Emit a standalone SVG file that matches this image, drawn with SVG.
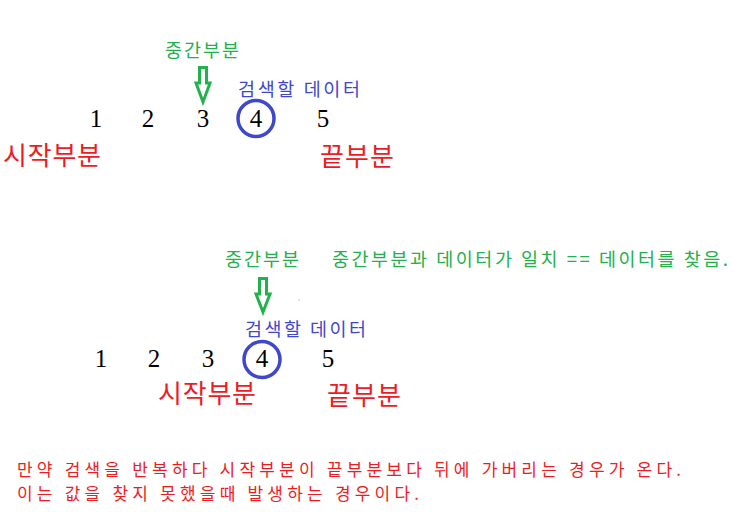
<svg xmlns="http://www.w3.org/2000/svg" width="740" height="512" viewBox="0 0 740 512">
<style>
.k{font-family:"Noto Sans CJK KR","Noto Sans",sans-serif;}
.g{fill:#22b14c;font-size:18.5px;}
.b{fill:#3f48cc;font-size:18.5px;}
.r{fill:#ed1c24;font-size:26px;}
.rs{fill:#ed1c24;font-size:17px;}
.n{font-family:"Liberation Serif","Times New Roman",serif;font-size:25px;fill:#000;text-anchor:middle;}
.ring{fill:none;stroke:#3f48cc;stroke-width:3.5;}
.arr{fill:#fff;stroke:#22b14c;stroke-width:3;stroke-linejoin:miter;}
</style>
<rect width="740" height="512" fill="#fff"/>
<g id="connectors">
<path class="arr" d="M199.5,67.5 H206.5 V83 H210 L203,102 L196,83 H199.5 Z"/>
<path class="arr" d="M259.5,278.5 H266.5 V294 H270 L263,312 L256,294 H259.5 Z"/>
</g>
<g id="top-mid"><text class="k g" x="165" y="57" textLength="74" lengthAdjust="spacing">중간부분</text></g>
<g id="top-target"><text class="k b" x="238" y="96" textLength="122" lengthAdjust="spacing">검색할 데이터</text></g>
<g id="top-numbers">
<text class="n" x="96" y="127">1</text>
<text class="n" x="148" y="127">2</text>
<text class="n" x="203" y="127">3</text>
<text class="n" x="256" y="127">4</text>
<text class="n" x="323" y="127">5</text>
<circle class="ring" cx="256" cy="118.5" r="18"/>
</g>
<g id="top-start"><text class="k r" x="3" y="165" textLength="98" lengthAdjust="spacing">시작부분</text></g>
<g id="top-end"><text class="k r" x="320" y="166" textLength="74" lengthAdjust="spacing">끝부분</text></g>
<g id="bot-mid"><text class="k g" x="225" y="266" textLength="74" lengthAdjust="spacing">중간부분</text></g>
<g id="bot-note"><text class="k g" x="332" y="266" textLength="396" lengthAdjust="spacing">중간부분과 데이터가 일치 == 데이터를 찾음.</text></g>
<rect x="298.5" y="299.5" width="1" height="1" fill="#8890c0"/>
<g id="bot-target"><text class="k b" x="245" y="336" textLength="121" lengthAdjust="spacing">검색할 데이터</text></g>
<g id="bot-numbers">
<text class="n" x="101" y="367">1</text>
<text class="n" x="154" y="367">2</text>
<text class="n" x="208" y="367">3</text>
<text class="n" x="262" y="367">4</text>
<text class="n" x="328" y="367">5</text>
<circle class="ring" cx="262" cy="359.5" r="18"/>
</g>
<g id="bot-start"><text class="k r" x="158" y="403" textLength="98" lengthAdjust="spacing">시작부분</text></g>
<g id="bot-end"><text class="k r" x="327" y="405" textLength="74" lengthAdjust="spacing">끝부분</text></g>
<g id="footer">
<text class="k rs" x="17" y="476" textLength="664" lengthAdjust="spacing">만약 검색을 반복하다 시작부분이 끝부분보다 뒤에 가버리는 경우가 온다.</text>
<text class="k rs" x="17" y="500" textLength="402" lengthAdjust="spacing">이는 값을 찾지 못했을때 발생하는 경우이다.</text>
</g>
</svg>
